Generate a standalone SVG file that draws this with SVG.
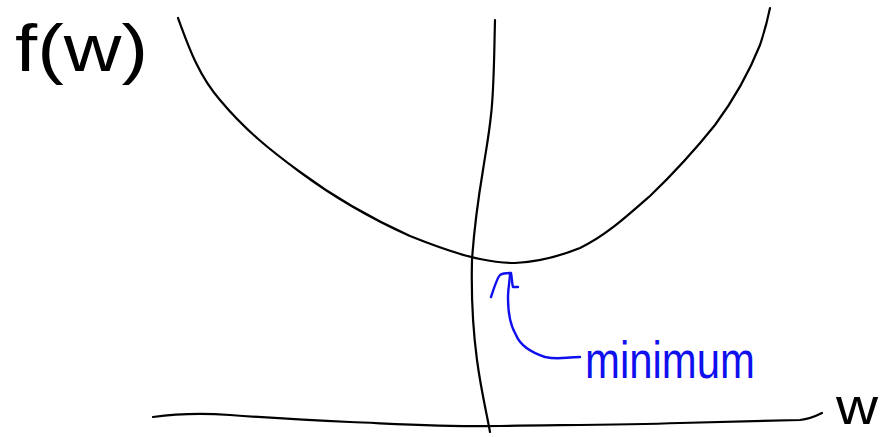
<svg xmlns="http://www.w3.org/2000/svg" width="886" height="437" viewBox="0 0 886 437">
<style>
.ink{fill:none;stroke:#000;stroke-width:2.2;stroke-linecap:round;stroke-linejoin:round}
.blue{fill:none;stroke:#1010ee;stroke-width:2.4;stroke-linecap:round;stroke-linejoin:round}
.hand{font-family:"Liberation Sans","DejaVu Sans",sans-serif;font-weight:normal}
</style>
<rect width="886" height="437" fill="#fff"/>
<g id="curve">
<path class="ink" d="M178,18 C188,45 198,75 220,100 C245,130 270,150 300,172 C335,198 370,218 410,236 C440,248 460,255 480,259 C495,262 505,263 515,263 C540,262 560,256 580,248 C605,236 625,218 650,196 C675,172 695,150 715,125 C735,98 750,70 760,45 C765,30 768,18 770,8"/>
</g>
<g id="vertical-axis">
<path class="ink" d="M495,20 C494,60 494,90 491,115 C489,135 486,150 483,170 C478,200 474,230 472,260 C471,300 473,330 477,360 C481,390 486,410 490,432"/>
</g>
<g id="horizontal-axis">
<path class="ink" d="M153,417 C175,414 200,413 230,415 C270,418 300,420 350,422 C400,424 450,427 500,426 C560,425 620,425 680,423 C730,422 770,421 800,420 C810,419 816,416 822,413"/>
</g>
<g id="arrow">
<path class="blue" d="M580,357 C565,357 560,360 545,357 C530,352 520,345 516,335 C510,325 508,310 508,298 C508,288 510,280 510,273"/>
<path class="blue" d="M491,297 C494,288 497,278 500,275 C503,273 507,273 511,273 C512,278 512,284 513,287 C515,287 517,287 518,287"/>
</g>
<g id="labels">
<text class="hand" x="15" y="71" font-size="66" textLength="133" lengthAdjust="spacingAndGlyphs">f(w)</text>
<text class="hand" x="585" y="378" font-size="52" fill="#1010ee" textLength="170" lengthAdjust="spacingAndGlyphs">minimum</text>
<text class="hand" x="836" y="424" font-size="52" textLength="42" lengthAdjust="spacingAndGlyphs">w</text>
</g>
</svg>
